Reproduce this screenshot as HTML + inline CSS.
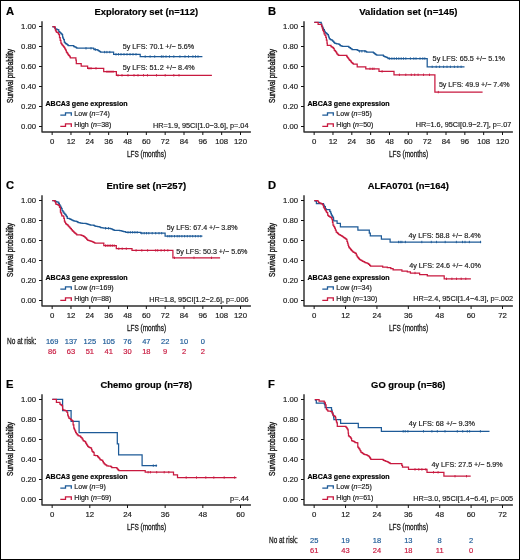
<!DOCTYPE html>
<html><head><meta charset="utf-8"><title>KM curves</title>
<style>html,body{margin:0;padding:0;background:#fff;width:520px;height:560px;overflow:hidden;}body{position:relative;font-family:'Liberation Sans', sans-serif;}</style>
</head><body><div style="position:absolute;left:0;top:0;width:520px;height:560px;will-change:transform;">
<svg width="520" height="560" viewBox="0 0 520 560" style="position:absolute;left:0;top:0;font-family:'Liberation Sans', sans-serif">
<rect x="0" y="0" width="520" height="560" fill="#fff"/>
<text x="6.10" y="15.20" font-size="11.2" fill="#000" stroke="#000" stroke-width="0.18" font-weight="bold">A</text>
<text x="146.33" y="15.00" font-size="9.3" fill="#000" stroke="#000" stroke-width="0.18" text-anchor="middle" font-weight="bold" textLength="103.60" lengthAdjust="spacingAndGlyphs">Exploratory set (n=112)</text>
<path d="M42.00,21.20V132.00H250.90" fill="none" stroke="#2e2e2e" stroke-width="1.45" stroke-linejoin="round"/>
<line x1="39.00" y1="26.50" x2="42.00" y2="26.50" stroke="#111" stroke-width="1.0"/>
<text x="36.10" y="28.95" font-size="7.9" fill="#1c1c1c" stroke="#1c1c1c" stroke-width="0.18" text-anchor="end" textLength="15.00" lengthAdjust="spacingAndGlyphs">1.00</text>
<line x1="39.00" y1="46.50" x2="42.00" y2="46.50" stroke="#111" stroke-width="1.0"/>
<text x="36.10" y="48.95" font-size="7.9" fill="#1c1c1c" stroke="#1c1c1c" stroke-width="0.18" text-anchor="end" textLength="15.00" lengthAdjust="spacingAndGlyphs">0.80</text>
<line x1="39.00" y1="66.50" x2="42.00" y2="66.50" stroke="#111" stroke-width="1.0"/>
<text x="36.10" y="68.95" font-size="7.9" fill="#1c1c1c" stroke="#1c1c1c" stroke-width="0.18" text-anchor="end" textLength="15.00" lengthAdjust="spacingAndGlyphs">0.60</text>
<line x1="39.00" y1="86.50" x2="42.00" y2="86.50" stroke="#111" stroke-width="1.0"/>
<text x="36.10" y="88.95" font-size="7.9" fill="#1c1c1c" stroke="#1c1c1c" stroke-width="0.18" text-anchor="end" textLength="15.00" lengthAdjust="spacingAndGlyphs">0.40</text>
<line x1="39.00" y1="106.50" x2="42.00" y2="106.50" stroke="#111" stroke-width="1.0"/>
<text x="36.10" y="108.95" font-size="7.9" fill="#1c1c1c" stroke="#1c1c1c" stroke-width="0.18" text-anchor="end" textLength="15.00" lengthAdjust="spacingAndGlyphs">0.20</text>
<line x1="39.00" y1="126.50" x2="42.00" y2="126.50" stroke="#111" stroke-width="1.0"/>
<text x="36.10" y="128.95" font-size="7.9" fill="#1c1c1c" stroke="#1c1c1c" stroke-width="0.18" text-anchor="end" textLength="15.00" lengthAdjust="spacingAndGlyphs">0.00</text>
<line x1="52.15" y1="132.00" x2="52.15" y2="135.00" stroke="#111" stroke-width="1.0"/>
<text x="52.15" y="143.80" font-size="7.8" fill="#1c1c1c" stroke="#1c1c1c" stroke-width="0.18" text-anchor="middle">0</text>
<line x1="70.98" y1="132.00" x2="70.98" y2="135.00" stroke="#111" stroke-width="1.0"/>
<text x="70.98" y="143.80" font-size="7.8" fill="#1c1c1c" stroke="#1c1c1c" stroke-width="0.18" text-anchor="middle">12</text>
<line x1="89.82" y1="132.00" x2="89.82" y2="135.00" stroke="#111" stroke-width="1.0"/>
<text x="89.82" y="143.80" font-size="7.8" fill="#1c1c1c" stroke="#1c1c1c" stroke-width="0.18" text-anchor="middle">24</text>
<line x1="108.66" y1="132.00" x2="108.66" y2="135.00" stroke="#111" stroke-width="1.0"/>
<text x="108.66" y="143.80" font-size="7.8" fill="#1c1c1c" stroke="#1c1c1c" stroke-width="0.18" text-anchor="middle">36</text>
<line x1="127.49" y1="132.00" x2="127.49" y2="135.00" stroke="#111" stroke-width="1.0"/>
<text x="127.49" y="143.80" font-size="7.8" fill="#1c1c1c" stroke="#1c1c1c" stroke-width="0.18" text-anchor="middle">48</text>
<line x1="146.33" y1="132.00" x2="146.33" y2="135.00" stroke="#111" stroke-width="1.0"/>
<text x="146.33" y="143.80" font-size="7.8" fill="#1c1c1c" stroke="#1c1c1c" stroke-width="0.18" text-anchor="middle">60</text>
<line x1="165.16" y1="132.00" x2="165.16" y2="135.00" stroke="#111" stroke-width="1.0"/>
<text x="165.16" y="143.80" font-size="7.8" fill="#1c1c1c" stroke="#1c1c1c" stroke-width="0.18" text-anchor="middle">72</text>
<line x1="184.00" y1="132.00" x2="184.00" y2="135.00" stroke="#111" stroke-width="1.0"/>
<text x="184.00" y="143.80" font-size="7.8" fill="#1c1c1c" stroke="#1c1c1c" stroke-width="0.18" text-anchor="middle">84</text>
<line x1="202.83" y1="132.00" x2="202.83" y2="135.00" stroke="#111" stroke-width="1.0"/>
<text x="202.83" y="143.80" font-size="7.8" fill="#1c1c1c" stroke="#1c1c1c" stroke-width="0.18" text-anchor="middle">96</text>
<line x1="221.67" y1="132.00" x2="221.67" y2="135.00" stroke="#111" stroke-width="1.0"/>
<text x="221.67" y="143.80" font-size="7.8" fill="#1c1c1c" stroke="#1c1c1c" stroke-width="0.18" text-anchor="middle">108</text>
<line x1="240.50" y1="132.00" x2="240.50" y2="135.00" stroke="#111" stroke-width="1.0"/>
<text x="240.50" y="143.80" font-size="7.8" fill="#1c1c1c" stroke="#1c1c1c" stroke-width="0.18" text-anchor="middle">120</text>
<text transform="translate(12.60,75.90) rotate(-90)" x="0" y="0" font-size="8.8" fill="#1c1c1c" text-anchor="middle" textLength="54" lengthAdjust="spacingAndGlyphs" stroke="#1c1c1c" stroke-width="0.4">Survival probability</text>
<text x="126.90" y="156.50" font-size="8.7" fill="#1c1c1c" textLength="39.20" lengthAdjust="spacingAndGlyphs" stroke="#1c1c1c" stroke-width="0.3">LFS (months)</text>
<text x="45.50" y="106.20" font-size="7.05" fill="#000" stroke="#000" stroke-width="0.18" font-weight="bold" textLength="82.10" lengthAdjust="spacingAndGlyphs">ABCA3 gene expression</text>
<path d="M60.30,115.20H65.50V112.90H71.30V115.80" fill="none" stroke="#1d5a97" stroke-width="1.3" stroke-linejoin="miter"/>
<path d="M60.30,126.30H65.50V123.90H71.30V126.90" fill="none" stroke="#c8193f" stroke-width="1.3" stroke-linejoin="miter"/>
<text x="74.30" y="116.20" font-size="7.05" fill="#1c1c1c" stroke="#1c1c1c" stroke-width="0.18">Low (<tspan font-style="italic">n</tspan>=74)</text>
<text x="74.30" y="127.10" font-size="7.05" fill="#1c1c1c" stroke="#1c1c1c" stroke-width="0.18">High (<tspan font-style="italic">n</tspan>=38)</text>
<text x="153.00" y="127.50" font-size="7.3" fill="#1c1c1c" stroke="#1c1c1c" stroke-width="0.18" textLength="95.50" lengthAdjust="spacingAndGlyphs">HR=1.9, 95CI[1.0−3.6], p=.04</text>
<path d="M52.40,26.60H53.07V26.77H53.73V26.93H54.40V27.10H54.90V27.95H55.40V28.80H56.10V29.10H56.80V29.40H57.45V29.60H58.10V29.80H58.80V31.50H59.50V32.15H60.20V32.80H61.05V33.65H61.90V34.50H62.60V37.20H63.10V38.40H63.60V39.60H64.30V42.00H64.95V42.85H65.60V43.70H66.45V44.20H67.30V44.70H67.80V45.20H68.30V45.70H73.10V45.70H73.80V46.70H74.65V46.90H75.50V47.10H76.15V47.65H76.80V48.20H93.00V48.20H93.60V48.85H94.20V49.50H94.92V49.58H95.65V49.65H96.38V49.72H97.10V49.80H97.70V50.20H98.30V50.60H99.07V51.10H99.83V51.60H100.60V52.10H112.70V52.10H113.60V54.30H140.20V54.30H140.20V56.50H202.40V56.50" fill="none" stroke="#1d5a97" stroke-width="1.25" stroke-linejoin="miter"/>
<path d="M52.40,26.60H54.40V26.60H54.90V28.35H55.40V30.10H55.90V31.10H56.40V32.10H57.10V32.30H57.80V32.50H58.30V33.50H58.80V34.50H59.50V37.60H60.20V40.30H60.90V43.00H61.55V44.00H62.20V45.00H62.90V45.85H63.60V46.70H64.10V47.40H64.60V48.10H65.10V49.10H65.60V50.10H66.30V51.80H66.80V52.50H67.30V53.20H67.80V54.05H68.30V54.90H68.80V55.40H69.30V55.90H69.85V56.90H70.40V57.90H75.60V57.90H75.90V60.20H76.30V63.70H81.20V63.70H81.20V66.00H87.60V66.00H87.60V68.30H103.70V68.30H103.70V71.70H116.40V71.70H116.40V75.40H211.90V75.40" fill="none" stroke="#c8193f" stroke-width="1.25" stroke-linejoin="miter"/>
<path d="M86.00,47.10v2.40M91.00,47.10v2.40M95.50,48.30v2.40M104.60,50.90v2.40M106.90,50.90v2.40M109.80,50.90v2.40M116.00,53.10v2.40M118.50,53.10v2.40M121.00,53.10v2.40M124.00,53.10v2.40M127.00,53.10v2.40M130.00,53.10v2.40M133.00,53.10v2.40M136.00,53.10v2.40M145.20,55.30v2.40M150.10,55.30v2.40M154.70,55.30v2.40M161.40,55.30v2.40M163.10,55.30v2.40M166.00,55.30v2.40M169.50,55.30v2.40M173.80,55.30v2.40M179.90,55.30v2.40M185.00,55.30v2.40M188.50,55.30v2.40M192.90,55.30v2.40M195.50,55.30v2.40M198.00,55.30v2.40" fill="none" stroke="#1d5a97" stroke-width="0.9"/>
<path d="M89.00,67.10v2.40M91.00,67.10v2.40M96.00,67.10v2.40M107.00,70.50v2.40M109.00,70.50v2.40M111.00,70.50v2.40M113.00,70.50v2.40M118.00,74.10v2.40M122.00,74.10v2.40M128.00,74.10v2.40M134.00,74.10v2.40M138.00,74.10v2.40M143.50,74.10v2.40M147.50,74.10v2.40M156.50,74.10v2.40M165.20,74.10v2.40M173.80,74.10v2.40M179.00,74.10v2.40" fill="none" stroke="#c8193f" stroke-width="0.9"/>
<text x="122.70" y="49.30" font-size="7.2" fill="#1c1c1c" stroke="#1c1c1c" stroke-width="0.18" textLength="71.40" lengthAdjust="spacingAndGlyphs">5y LFS: 70.1 +/− 5.6%</text>
<text x="122.70" y="69.70" font-size="7.2" fill="#1c1c1c" stroke="#1c1c1c" stroke-width="0.18" textLength="71.90" lengthAdjust="spacingAndGlyphs">5y LFS: 51.2 +/− 8.4%</text>
<text x="268.10" y="15.20" font-size="11.2" fill="#000" stroke="#000" stroke-width="0.18" font-weight="bold">B</text>
<text x="408.32" y="15.00" font-size="9.3" fill="#000" stroke="#000" stroke-width="0.18" text-anchor="middle" font-weight="bold" textLength="98.20" lengthAdjust="spacingAndGlyphs">Validation set (n=145)</text>
<path d="M304.00,21.20V132.00H512.90" fill="none" stroke="#2e2e2e" stroke-width="1.45" stroke-linejoin="round"/>
<line x1="301.00" y1="26.50" x2="304.00" y2="26.50" stroke="#111" stroke-width="1.0"/>
<text x="298.10" y="28.95" font-size="7.9" fill="#1c1c1c" stroke="#1c1c1c" stroke-width="0.18" text-anchor="end" textLength="15.00" lengthAdjust="spacingAndGlyphs">1.00</text>
<line x1="301.00" y1="46.50" x2="304.00" y2="46.50" stroke="#111" stroke-width="1.0"/>
<text x="298.10" y="48.95" font-size="7.9" fill="#1c1c1c" stroke="#1c1c1c" stroke-width="0.18" text-anchor="end" textLength="15.00" lengthAdjust="spacingAndGlyphs">0.80</text>
<line x1="301.00" y1="66.50" x2="304.00" y2="66.50" stroke="#111" stroke-width="1.0"/>
<text x="298.10" y="68.95" font-size="7.9" fill="#1c1c1c" stroke="#1c1c1c" stroke-width="0.18" text-anchor="end" textLength="15.00" lengthAdjust="spacingAndGlyphs">0.60</text>
<line x1="301.00" y1="86.50" x2="304.00" y2="86.50" stroke="#111" stroke-width="1.0"/>
<text x="298.10" y="88.95" font-size="7.9" fill="#1c1c1c" stroke="#1c1c1c" stroke-width="0.18" text-anchor="end" textLength="15.00" lengthAdjust="spacingAndGlyphs">0.40</text>
<line x1="301.00" y1="106.50" x2="304.00" y2="106.50" stroke="#111" stroke-width="1.0"/>
<text x="298.10" y="108.95" font-size="7.9" fill="#1c1c1c" stroke="#1c1c1c" stroke-width="0.18" text-anchor="end" textLength="15.00" lengthAdjust="spacingAndGlyphs">0.20</text>
<line x1="301.00" y1="126.50" x2="304.00" y2="126.50" stroke="#111" stroke-width="1.0"/>
<text x="298.10" y="128.95" font-size="7.9" fill="#1c1c1c" stroke="#1c1c1c" stroke-width="0.18" text-anchor="end" textLength="15.00" lengthAdjust="spacingAndGlyphs">0.00</text>
<line x1="314.15" y1="132.00" x2="314.15" y2="135.00" stroke="#111" stroke-width="1.0"/>
<text x="314.15" y="143.80" font-size="7.8" fill="#1c1c1c" stroke="#1c1c1c" stroke-width="0.18" text-anchor="middle">0</text>
<line x1="332.98" y1="132.00" x2="332.98" y2="135.00" stroke="#111" stroke-width="1.0"/>
<text x="332.98" y="143.80" font-size="7.8" fill="#1c1c1c" stroke="#1c1c1c" stroke-width="0.18" text-anchor="middle">12</text>
<line x1="351.82" y1="132.00" x2="351.82" y2="135.00" stroke="#111" stroke-width="1.0"/>
<text x="351.82" y="143.80" font-size="7.8" fill="#1c1c1c" stroke="#1c1c1c" stroke-width="0.18" text-anchor="middle">24</text>
<line x1="370.65" y1="132.00" x2="370.65" y2="135.00" stroke="#111" stroke-width="1.0"/>
<text x="370.65" y="143.80" font-size="7.8" fill="#1c1c1c" stroke="#1c1c1c" stroke-width="0.18" text-anchor="middle">36</text>
<line x1="389.49" y1="132.00" x2="389.49" y2="135.00" stroke="#111" stroke-width="1.0"/>
<text x="389.49" y="143.80" font-size="7.8" fill="#1c1c1c" stroke="#1c1c1c" stroke-width="0.18" text-anchor="middle">48</text>
<line x1="408.32" y1="132.00" x2="408.32" y2="135.00" stroke="#111" stroke-width="1.0"/>
<text x="408.32" y="143.80" font-size="7.8" fill="#1c1c1c" stroke="#1c1c1c" stroke-width="0.18" text-anchor="middle">60</text>
<line x1="427.16" y1="132.00" x2="427.16" y2="135.00" stroke="#111" stroke-width="1.0"/>
<text x="427.16" y="143.80" font-size="7.8" fill="#1c1c1c" stroke="#1c1c1c" stroke-width="0.18" text-anchor="middle">72</text>
<line x1="446.00" y1="132.00" x2="446.00" y2="135.00" stroke="#111" stroke-width="1.0"/>
<text x="446.00" y="143.80" font-size="7.8" fill="#1c1c1c" stroke="#1c1c1c" stroke-width="0.18" text-anchor="middle">84</text>
<line x1="464.83" y1="132.00" x2="464.83" y2="135.00" stroke="#111" stroke-width="1.0"/>
<text x="464.83" y="143.80" font-size="7.8" fill="#1c1c1c" stroke="#1c1c1c" stroke-width="0.18" text-anchor="middle">96</text>
<line x1="483.66" y1="132.00" x2="483.66" y2="135.00" stroke="#111" stroke-width="1.0"/>
<text x="483.66" y="143.80" font-size="7.8" fill="#1c1c1c" stroke="#1c1c1c" stroke-width="0.18" text-anchor="middle">108</text>
<line x1="502.50" y1="132.00" x2="502.50" y2="135.00" stroke="#111" stroke-width="1.0"/>
<text x="502.50" y="143.80" font-size="7.8" fill="#1c1c1c" stroke="#1c1c1c" stroke-width="0.18" text-anchor="middle">120</text>
<text transform="translate(274.60,75.90) rotate(-90)" x="0" y="0" font-size="8.8" fill="#1c1c1c" text-anchor="middle" textLength="54" lengthAdjust="spacingAndGlyphs" stroke="#1c1c1c" stroke-width="0.4">Survival probability</text>
<text x="388.90" y="156.50" font-size="8.7" fill="#1c1c1c" textLength="39.20" lengthAdjust="spacingAndGlyphs" stroke="#1c1c1c" stroke-width="0.3">LFS (months)</text>
<text x="307.50" y="106.20" font-size="7.05" fill="#000" stroke="#000" stroke-width="0.18" font-weight="bold" textLength="82.10" lengthAdjust="spacingAndGlyphs">ABCA3 gene expression</text>
<path d="M322.30,115.20H327.50V112.90H333.30V115.80" fill="none" stroke="#1d5a97" stroke-width="1.3" stroke-linejoin="miter"/>
<path d="M322.30,126.30H327.50V123.90H333.30V126.90" fill="none" stroke="#c8193f" stroke-width="1.3" stroke-linejoin="miter"/>
<text x="336.30" y="116.20" font-size="7.05" fill="#1c1c1c" stroke="#1c1c1c" stroke-width="0.18">Low (<tspan font-style="italic">n</tspan>=95)</text>
<text x="336.30" y="127.10" font-size="7.05" fill="#1c1c1c" stroke="#1c1c1c" stroke-width="0.18">High (<tspan font-style="italic">n</tspan>=50)</text>
<text x="415.70" y="127.40" font-size="7.3" fill="#1c1c1c" stroke="#1c1c1c" stroke-width="0.18" textLength="95.60" lengthAdjust="spacingAndGlyphs">HR=1.6, 95CI[0.9−2.7], p=.07</text>
<path d="M314.30,22.40H320.70V22.40H321.20V24.00H321.80V26.30H322.70V28.10H323.50V29.50H324.40V31.00H324.85V31.85H325.30V32.70H326.00V33.15H326.70V33.60H327.15V34.15H327.60V34.70H328.40V36.20H328.85V37.35H329.30V38.50H329.90V39.05H330.50V39.60H331.20V39.90H331.90V40.20H332.50V40.80H333.10V41.40H333.80V42.25H334.50V43.10H335.35V43.40H336.20V43.70H336.87V43.77H337.53V43.83H338.20V43.90H338.90V44.43H339.60V44.97H340.30V45.50H341.03V45.80H341.77V46.10H342.50V46.40H347.80V46.40H348.65V47.05H349.50V47.70H350.37V48.33H351.23V48.97H352.10V49.60H356.50V49.60H357.20V50.03H357.90V50.47H358.60V50.90H365.10V51.10H365.90V51.55H366.70V52.00H372.60V52.00H373.33V52.63H374.07V53.27H374.80V53.90H375.50V54.33H376.20V54.77H376.90V55.20H382.80V55.20H383.35V55.75H383.90V56.30H384.57V56.57H385.25V56.85H385.93V57.12H386.60V57.40H387.40V57.95H388.20V58.50H427.20V58.50H427.20V66.80H464.50V66.80" fill="none" stroke="#1d5a97" stroke-width="1.25" stroke-linejoin="miter"/>
<path d="M314.30,22.40H317.80V22.40H318.10V24.30H320.70V24.30H321.50V25.80H322.10V27.80H322.70V30.10H323.50V31.50H324.10V33.80H325.00V35.30H325.80V37.30H326.40V40.20H327.00V43.10H327.30V45.40H330.50V45.40H331.00V46.50H331.60V46.80H332.20V47.10H332.80V47.70H333.40V48.30H334.20V50.00H334.80V50.67H335.40V51.33H336.00V52.00H336.55V53.05H337.10V54.10H337.90V54.75H338.70V55.40H346.20V55.40H346.75V56.40H347.30V57.40H348.10V58.45H348.90V59.50H349.70V60.30H350.50V61.10H351.30V62.30H351.97V62.87H352.63V63.43H353.30V64.00H357.20V64.20H357.20V66.80H365.80V66.80H365.80V68.80H379.00V68.80H379.00V71.40H394.00V71.40H394.00V74.90H434.90V74.90H434.90V92.10H482.60V92.10" fill="none" stroke="#c8193f" stroke-width="1.25" stroke-linejoin="miter"/>
<path d="M359.60,50.10v2.40M361.90,50.10v2.40M364.80,50.10v2.40M389.60,57.30v2.40M391.90,57.30v2.40M394.20,57.30v2.40M396.50,57.30v2.40M398.80,57.30v2.40M401.20,57.30v2.40M403.50,57.30v2.40M405.80,57.30v2.40M410.40,57.30v2.40M413.80,57.30v2.40M416.00,57.30v2.40M420.00,57.30v2.40M422.80,57.30v2.40M424.80,57.30v2.40M432.20,65.60v2.40M436.20,65.60v2.40M439.60,65.60v2.40M443.60,65.60v2.40M447.00,65.60v2.40M450.40,65.60v2.40M454.40,65.60v2.40M457.80,65.60v2.40M461.10,65.60v2.40" fill="none" stroke="#1d5a97" stroke-width="0.9"/>
<path d="M370.00,67.60v2.40M372.30,67.60v2.40M374.00,67.60v2.40M382.10,70.20v2.40M399.40,73.60v2.40M405.80,73.60v2.40M411.30,73.60v2.40M414.70,73.60v2.40M418.10,73.60v2.40M423.50,73.60v2.40M429.50,73.60v2.40M438.30,90.90v2.40" fill="none" stroke="#c8193f" stroke-width="0.9"/>
<text x="432.60" y="61.20" font-size="7.2" fill="#1c1c1c" stroke="#1c1c1c" stroke-width="0.18" textLength="72.30" lengthAdjust="spacingAndGlyphs">5y LFS: 65.5 +/− 5.1%</text>
<text x="438.90" y="87.00" font-size="7.2" fill="#1c1c1c" stroke="#1c1c1c" stroke-width="0.18" textLength="70.60" lengthAdjust="spacingAndGlyphs">5y LFS: 49.9 +/− 7.4%</text>
<text x="6.10" y="189.20" font-size="11.2" fill="#000" stroke="#000" stroke-width="0.18" font-weight="bold">C</text>
<text x="146.33" y="189.00" font-size="9.3" fill="#000" stroke="#000" stroke-width="0.18" text-anchor="middle" font-weight="bold" textLength="79.60" lengthAdjust="spacingAndGlyphs">Entire set (n=257)</text>
<path d="M42.00,195.20V306.00H250.90" fill="none" stroke="#2e2e2e" stroke-width="1.45" stroke-linejoin="round"/>
<line x1="39.00" y1="200.50" x2="42.00" y2="200.50" stroke="#111" stroke-width="1.0"/>
<text x="36.10" y="202.95" font-size="7.9" fill="#1c1c1c" stroke="#1c1c1c" stroke-width="0.18" text-anchor="end" textLength="15.00" lengthAdjust="spacingAndGlyphs">1.00</text>
<line x1="39.00" y1="220.50" x2="42.00" y2="220.50" stroke="#111" stroke-width="1.0"/>
<text x="36.10" y="222.95" font-size="7.9" fill="#1c1c1c" stroke="#1c1c1c" stroke-width="0.18" text-anchor="end" textLength="15.00" lengthAdjust="spacingAndGlyphs">0.80</text>
<line x1="39.00" y1="240.50" x2="42.00" y2="240.50" stroke="#111" stroke-width="1.0"/>
<text x="36.10" y="242.95" font-size="7.9" fill="#1c1c1c" stroke="#1c1c1c" stroke-width="0.18" text-anchor="end" textLength="15.00" lengthAdjust="spacingAndGlyphs">0.60</text>
<line x1="39.00" y1="260.50" x2="42.00" y2="260.50" stroke="#111" stroke-width="1.0"/>
<text x="36.10" y="262.95" font-size="7.9" fill="#1c1c1c" stroke="#1c1c1c" stroke-width="0.18" text-anchor="end" textLength="15.00" lengthAdjust="spacingAndGlyphs">0.40</text>
<line x1="39.00" y1="280.50" x2="42.00" y2="280.50" stroke="#111" stroke-width="1.0"/>
<text x="36.10" y="282.95" font-size="7.9" fill="#1c1c1c" stroke="#1c1c1c" stroke-width="0.18" text-anchor="end" textLength="15.00" lengthAdjust="spacingAndGlyphs">0.20</text>
<line x1="39.00" y1="300.50" x2="42.00" y2="300.50" stroke="#111" stroke-width="1.0"/>
<text x="36.10" y="302.95" font-size="7.9" fill="#1c1c1c" stroke="#1c1c1c" stroke-width="0.18" text-anchor="end" textLength="15.00" lengthAdjust="spacingAndGlyphs">0.00</text>
<line x1="52.15" y1="306.00" x2="52.15" y2="309.00" stroke="#111" stroke-width="1.0"/>
<text x="52.15" y="317.80" font-size="7.8" fill="#1c1c1c" stroke="#1c1c1c" stroke-width="0.18" text-anchor="middle">0</text>
<line x1="70.98" y1="306.00" x2="70.98" y2="309.00" stroke="#111" stroke-width="1.0"/>
<text x="70.98" y="317.80" font-size="7.8" fill="#1c1c1c" stroke="#1c1c1c" stroke-width="0.18" text-anchor="middle">12</text>
<line x1="89.82" y1="306.00" x2="89.82" y2="309.00" stroke="#111" stroke-width="1.0"/>
<text x="89.82" y="317.80" font-size="7.8" fill="#1c1c1c" stroke="#1c1c1c" stroke-width="0.18" text-anchor="middle">24</text>
<line x1="108.66" y1="306.00" x2="108.66" y2="309.00" stroke="#111" stroke-width="1.0"/>
<text x="108.66" y="317.80" font-size="7.8" fill="#1c1c1c" stroke="#1c1c1c" stroke-width="0.18" text-anchor="middle">36</text>
<line x1="127.49" y1="306.00" x2="127.49" y2="309.00" stroke="#111" stroke-width="1.0"/>
<text x="127.49" y="317.80" font-size="7.8" fill="#1c1c1c" stroke="#1c1c1c" stroke-width="0.18" text-anchor="middle">48</text>
<line x1="146.33" y1="306.00" x2="146.33" y2="309.00" stroke="#111" stroke-width="1.0"/>
<text x="146.33" y="317.80" font-size="7.8" fill="#1c1c1c" stroke="#1c1c1c" stroke-width="0.18" text-anchor="middle">60</text>
<line x1="165.16" y1="306.00" x2="165.16" y2="309.00" stroke="#111" stroke-width="1.0"/>
<text x="165.16" y="317.80" font-size="7.8" fill="#1c1c1c" stroke="#1c1c1c" stroke-width="0.18" text-anchor="middle">72</text>
<line x1="184.00" y1="306.00" x2="184.00" y2="309.00" stroke="#111" stroke-width="1.0"/>
<text x="184.00" y="317.80" font-size="7.8" fill="#1c1c1c" stroke="#1c1c1c" stroke-width="0.18" text-anchor="middle">84</text>
<line x1="202.83" y1="306.00" x2="202.83" y2="309.00" stroke="#111" stroke-width="1.0"/>
<text x="202.83" y="317.80" font-size="7.8" fill="#1c1c1c" stroke="#1c1c1c" stroke-width="0.18" text-anchor="middle">96</text>
<line x1="221.67" y1="306.00" x2="221.67" y2="309.00" stroke="#111" stroke-width="1.0"/>
<text x="221.67" y="317.80" font-size="7.8" fill="#1c1c1c" stroke="#1c1c1c" stroke-width="0.18" text-anchor="middle">108</text>
<line x1="240.50" y1="306.00" x2="240.50" y2="309.00" stroke="#111" stroke-width="1.0"/>
<text x="240.50" y="317.80" font-size="7.8" fill="#1c1c1c" stroke="#1c1c1c" stroke-width="0.18" text-anchor="middle">120</text>
<text transform="translate(12.60,249.90) rotate(-90)" x="0" y="0" font-size="8.8" fill="#1c1c1c" text-anchor="middle" textLength="54" lengthAdjust="spacingAndGlyphs" stroke="#1c1c1c" stroke-width="0.4">Survival probability</text>
<text x="126.90" y="330.50" font-size="8.7" fill="#1c1c1c" textLength="39.20" lengthAdjust="spacingAndGlyphs" stroke="#1c1c1c" stroke-width="0.3">LFS (months)</text>
<text x="45.50" y="280.20" font-size="7.05" fill="#000" stroke="#000" stroke-width="0.18" font-weight="bold" textLength="82.10" lengthAdjust="spacingAndGlyphs">ABCA3 gene expression</text>
<path d="M60.30,289.20H65.50V286.90H71.30V289.80" fill="none" stroke="#1d5a97" stroke-width="1.3" stroke-linejoin="miter"/>
<path d="M60.30,300.30H65.50V297.90H71.30V300.90" fill="none" stroke="#c8193f" stroke-width="1.3" stroke-linejoin="miter"/>
<text x="74.30" y="290.20" font-size="7.05" fill="#1c1c1c" stroke="#1c1c1c" stroke-width="0.18">Low (<tspan font-style="italic">n</tspan>=169)</text>
<text x="74.30" y="301.10" font-size="7.05" fill="#1c1c1c" stroke="#1c1c1c" stroke-width="0.18">High (<tspan font-style="italic">n</tspan>=88)</text>
<text x="149.20" y="301.50" font-size="7.3" fill="#1c1c1c" stroke="#1c1c1c" stroke-width="0.18" textLength="99.30" lengthAdjust="spacingAndGlyphs">HR=1.8, 95CI[1.2−2.6], p=.006</text>
<path d="M52.30,200.60H53.07V200.67H53.83V200.73H54.60V200.80H55.20V201.20H55.80V201.60H56.57V201.80H57.33V202.00H58.10V202.20H58.70V203.30H59.40V204.75H60.10V206.20H60.80V207.35H61.50V208.50H62.10V210.60H62.95V211.90H63.80V213.20H64.70V214.05H65.60V214.90H66.15V215.75H66.70V216.60H67.30V218.30H68.20V218.45H69.10V218.60H69.87V219.00H70.63V219.40H71.40V219.80H72.17V220.17H72.93V220.53H73.70V220.90H74.47V221.03H75.23V221.17H76.00V221.30H76.77V221.70H77.53V222.10H78.30V222.50H79.07V222.73H79.83V222.97H80.60V223.20H81.37V223.23H82.13V223.27H82.90V223.30H83.67V223.33H84.43V223.37H85.20V223.40H85.97V223.65H86.75V223.90H87.53V224.15H88.30V224.40H89.07V224.67H89.83V224.93H90.60V225.20H92.90V225.20H93.68V225.47H94.45V225.75H95.22V226.03H96.00V226.30H96.77V226.43H97.53V226.57H98.30V226.70H99.07V226.97H99.83V227.23H100.60V227.50H101.38V227.65H102.15V227.80H102.92V227.95H103.70V228.10H104.47V228.17H105.23V228.23H106.00V228.30H109.50V228.30H110.27V228.57H111.03V228.83H111.80V229.10H112.60V229.50H113.40V229.90H114.20V230.30H118.80V230.30H119.57V230.50H120.33V230.70H121.10V230.90H121.95V231.10H122.80V231.30H123.65V231.50H124.50V231.70H125.40V232.00H126.30V232.30H140.40V232.30H140.70V233.20H165.10V233.20H165.10V236.20H202.40V236.20" fill="none" stroke="#1d5a97" stroke-width="1.25" stroke-linejoin="miter"/>
<path d="M52.30,200.60H54.30V200.60H54.90V201.55H55.50V202.50H55.80V204.20H56.65V204.35H57.50V204.50H58.20V205.10H58.90V205.70H59.50V207.40H60.40V212.00H60.95V213.15H61.50V214.30H61.80V215.80H62.40V215.90H63.00V216.00H63.80V218.40H64.40V221.20H65.00V222.35H65.60V223.50H66.23V224.07H66.87V224.63H67.50V225.20H68.27V226.07H69.03V226.93H69.80V227.80H70.60V228.70H71.40V229.60H72.20V230.50H72.97V231.27H73.73V232.03H74.50V232.80H75.27V233.47H76.03V234.13H76.80V234.80H80.20V234.80H80.88V235.08H81.55V235.35H82.23V235.62H82.90V235.90H83.67V236.43H84.43V236.97H85.20V237.50H85.97V238.40H86.73V239.30H87.50V240.20H88.27V240.43H89.03V240.67H89.80V240.90H90.60V241.17H91.40V241.43H92.20V241.70H92.95V242.05H93.70V242.40H94.45V242.75H95.20V243.10H103.60V243.10H103.80V245.60H115.90V245.60H116.30V248.70H131.60V248.70H132.00V250.40H172.90V250.40H172.90V257.80H220.10V257.80" fill="none" stroke="#c8193f" stroke-width="1.25" stroke-linejoin="miter"/>
<path d="M105.50,227.10v2.40M108.50,227.10v2.40M128.00,231.10v2.40M130.30,231.10v2.40M132.60,231.10v2.40M134.90,231.10v2.40M137.20,231.10v2.40M141.80,232.00v2.40M144.20,232.00v2.40M146.50,232.00v2.40M148.80,232.00v2.40M152.20,232.00v2.40M155.70,232.00v2.40M159.00,232.00v2.40M161.70,232.00v2.40M167.80,235.00v2.40M169.80,235.00v2.40M171.80,235.00v2.40M174.50,235.00v2.40M177.20,235.00v2.40M179.20,235.00v2.40M181.90,235.00v2.40M184.60,235.00v2.40M187.30,235.00v2.40M190.00,235.00v2.40M192.70,235.00v2.40M195.40,235.00v2.40M198.10,235.00v2.40M200.80,235.00v2.40" fill="none" stroke="#1d5a97" stroke-width="0.9"/>
<path d="M105.50,244.40v2.40M107.20,244.40v2.40M109.00,244.40v2.40M110.70,244.40v2.40M112.40,244.40v2.40M114.20,244.40v2.40M118.80,247.50v2.40M122.20,247.50v2.40M126.30,247.50v2.40M136.10,249.20v2.40M141.80,249.20v2.40M147.60,249.20v2.40M155.70,249.20v2.40M157.70,249.20v2.40M161.10,249.20v2.40M164.40,249.20v2.40M167.80,249.20v2.40M174.50,256.60v2.40M194.00,256.60v2.40M211.50,256.60v2.40" fill="none" stroke="#c8193f" stroke-width="0.9"/>
<text x="166.80" y="229.80" font-size="7.2" fill="#1c1c1c" stroke="#1c1c1c" stroke-width="0.18" textLength="70.70" lengthAdjust="spacingAndGlyphs">5y LFS: 67.4 +/− 3.8%</text>
<text x="176.30" y="253.50" font-size="7.2" fill="#1c1c1c" stroke="#1c1c1c" stroke-width="0.18" textLength="71.20" lengthAdjust="spacingAndGlyphs">5y LFS: 50.3 +/− 5.6%</text>
<text x="7.00" y="344.20" font-size="8.8" fill="#1c1c1c" textLength="29.30" lengthAdjust="spacingAndGlyphs" stroke="#1c1c1c" stroke-width="0.3">No at risk:</text>
<text x="52.15" y="344.20" font-size="7.5" fill="#1d5a97" stroke="#1d5a97" stroke-width="0.18" text-anchor="middle">169</text>
<text x="52.15" y="354.40" font-size="7.5" fill="#c8193f" stroke="#c8193f" stroke-width="0.18" text-anchor="middle">86</text>
<text x="70.98" y="344.20" font-size="7.5" fill="#1d5a97" stroke="#1d5a97" stroke-width="0.18" text-anchor="middle">137</text>
<text x="70.98" y="354.40" font-size="7.5" fill="#c8193f" stroke="#c8193f" stroke-width="0.18" text-anchor="middle">63</text>
<text x="89.82" y="344.20" font-size="7.5" fill="#1d5a97" stroke="#1d5a97" stroke-width="0.18" text-anchor="middle">125</text>
<text x="89.82" y="354.40" font-size="7.5" fill="#c8193f" stroke="#c8193f" stroke-width="0.18" text-anchor="middle">51</text>
<text x="108.66" y="344.20" font-size="7.5" fill="#1d5a97" stroke="#1d5a97" stroke-width="0.18" text-anchor="middle">105</text>
<text x="108.66" y="354.40" font-size="7.5" fill="#c8193f" stroke="#c8193f" stroke-width="0.18" text-anchor="middle">41</text>
<text x="127.49" y="344.20" font-size="7.5" fill="#1d5a97" stroke="#1d5a97" stroke-width="0.18" text-anchor="middle">76</text>
<text x="127.49" y="354.40" font-size="7.5" fill="#c8193f" stroke="#c8193f" stroke-width="0.18" text-anchor="middle">30</text>
<text x="146.33" y="344.20" font-size="7.5" fill="#1d5a97" stroke="#1d5a97" stroke-width="0.18" text-anchor="middle">47</text>
<text x="146.33" y="354.40" font-size="7.5" fill="#c8193f" stroke="#c8193f" stroke-width="0.18" text-anchor="middle">18</text>
<text x="165.16" y="344.20" font-size="7.5" fill="#1d5a97" stroke="#1d5a97" stroke-width="0.18" text-anchor="middle">22</text>
<text x="165.16" y="354.40" font-size="7.5" fill="#c8193f" stroke="#c8193f" stroke-width="0.18" text-anchor="middle">9</text>
<text x="184.00" y="344.20" font-size="7.5" fill="#1d5a97" stroke="#1d5a97" stroke-width="0.18" text-anchor="middle">10</text>
<text x="184.00" y="354.40" font-size="7.5" fill="#c8193f" stroke="#c8193f" stroke-width="0.18" text-anchor="middle">2</text>
<text x="202.83" y="344.20" font-size="7.5" fill="#1d5a97" stroke="#1d5a97" stroke-width="0.18" text-anchor="middle">0</text>
<text x="202.83" y="354.40" font-size="7.5" fill="#c8193f" stroke="#c8193f" stroke-width="0.18" text-anchor="middle">2</text>
<text x="268.10" y="189.20" font-size="11.2" fill="#000" stroke="#000" stroke-width="0.18" font-weight="bold">D</text>
<text x="408.32" y="189.00" font-size="9.3" fill="#000" stroke="#000" stroke-width="0.18" text-anchor="middle" font-weight="bold" textLength="81.00" lengthAdjust="spacingAndGlyphs">ALFA0701 (n=164)</text>
<path d="M304.00,195.20V306.00H512.90" fill="none" stroke="#2e2e2e" stroke-width="1.45" stroke-linejoin="round"/>
<line x1="301.00" y1="200.50" x2="304.00" y2="200.50" stroke="#111" stroke-width="1.0"/>
<text x="298.10" y="202.95" font-size="7.9" fill="#1c1c1c" stroke="#1c1c1c" stroke-width="0.18" text-anchor="end" textLength="15.00" lengthAdjust="spacingAndGlyphs">1.00</text>
<line x1="301.00" y1="220.50" x2="304.00" y2="220.50" stroke="#111" stroke-width="1.0"/>
<text x="298.10" y="222.95" font-size="7.9" fill="#1c1c1c" stroke="#1c1c1c" stroke-width="0.18" text-anchor="end" textLength="15.00" lengthAdjust="spacingAndGlyphs">0.80</text>
<line x1="301.00" y1="240.50" x2="304.00" y2="240.50" stroke="#111" stroke-width="1.0"/>
<text x="298.10" y="242.95" font-size="7.9" fill="#1c1c1c" stroke="#1c1c1c" stroke-width="0.18" text-anchor="end" textLength="15.00" lengthAdjust="spacingAndGlyphs">0.60</text>
<line x1="301.00" y1="260.50" x2="304.00" y2="260.50" stroke="#111" stroke-width="1.0"/>
<text x="298.10" y="262.95" font-size="7.9" fill="#1c1c1c" stroke="#1c1c1c" stroke-width="0.18" text-anchor="end" textLength="15.00" lengthAdjust="spacingAndGlyphs">0.40</text>
<line x1="301.00" y1="280.50" x2="304.00" y2="280.50" stroke="#111" stroke-width="1.0"/>
<text x="298.10" y="282.95" font-size="7.9" fill="#1c1c1c" stroke="#1c1c1c" stroke-width="0.18" text-anchor="end" textLength="15.00" lengthAdjust="spacingAndGlyphs">0.20</text>
<line x1="301.00" y1="300.50" x2="304.00" y2="300.50" stroke="#111" stroke-width="1.0"/>
<text x="298.10" y="302.95" font-size="7.9" fill="#1c1c1c" stroke="#1c1c1c" stroke-width="0.18" text-anchor="end" textLength="15.00" lengthAdjust="spacingAndGlyphs">0.00</text>
<line x1="314.15" y1="306.00" x2="314.15" y2="309.00" stroke="#111" stroke-width="1.0"/>
<text x="314.15" y="317.80" font-size="7.8" fill="#1c1c1c" stroke="#1c1c1c" stroke-width="0.18" text-anchor="middle">0</text>
<line x1="345.54" y1="306.00" x2="345.54" y2="309.00" stroke="#111" stroke-width="1.0"/>
<text x="345.54" y="317.80" font-size="7.8" fill="#1c1c1c" stroke="#1c1c1c" stroke-width="0.18" text-anchor="middle">12</text>
<line x1="376.93" y1="306.00" x2="376.93" y2="309.00" stroke="#111" stroke-width="1.0"/>
<text x="376.93" y="317.80" font-size="7.8" fill="#1c1c1c" stroke="#1c1c1c" stroke-width="0.18" text-anchor="middle">24</text>
<line x1="408.32" y1="306.00" x2="408.32" y2="309.00" stroke="#111" stroke-width="1.0"/>
<text x="408.32" y="317.80" font-size="7.8" fill="#1c1c1c" stroke="#1c1c1c" stroke-width="0.18" text-anchor="middle">36</text>
<line x1="439.71" y1="306.00" x2="439.71" y2="309.00" stroke="#111" stroke-width="1.0"/>
<text x="439.71" y="317.80" font-size="7.8" fill="#1c1c1c" stroke="#1c1c1c" stroke-width="0.18" text-anchor="middle">48</text>
<line x1="471.10" y1="306.00" x2="471.10" y2="309.00" stroke="#111" stroke-width="1.0"/>
<text x="471.10" y="317.80" font-size="7.8" fill="#1c1c1c" stroke="#1c1c1c" stroke-width="0.18" text-anchor="middle">60</text>
<line x1="502.49" y1="306.00" x2="502.49" y2="309.00" stroke="#111" stroke-width="1.0"/>
<text x="502.49" y="317.80" font-size="7.8" fill="#1c1c1c" stroke="#1c1c1c" stroke-width="0.18" text-anchor="middle">72</text>
<text transform="translate(274.60,249.90) rotate(-90)" x="0" y="0" font-size="8.8" fill="#1c1c1c" text-anchor="middle" textLength="54" lengthAdjust="spacingAndGlyphs" stroke="#1c1c1c" stroke-width="0.4">Survival probability</text>
<text x="388.90" y="330.50" font-size="8.7" fill="#1c1c1c" textLength="39.20" lengthAdjust="spacingAndGlyphs" stroke="#1c1c1c" stroke-width="0.3">LFS (months)</text>
<text x="307.50" y="280.20" font-size="7.05" fill="#000" stroke="#000" stroke-width="0.18" font-weight="bold" textLength="82.10" lengthAdjust="spacingAndGlyphs">ABCA3 gene expression</text>
<path d="M322.30,289.20H327.50V286.90H333.30V289.80" fill="none" stroke="#1d5a97" stroke-width="1.3" stroke-linejoin="miter"/>
<path d="M322.30,300.30H327.50V297.90H333.30V300.90" fill="none" stroke="#c8193f" stroke-width="1.3" stroke-linejoin="miter"/>
<text x="336.30" y="290.20" font-size="7.05" fill="#1c1c1c" stroke="#1c1c1c" stroke-width="0.18">Low (<tspan font-style="italic">n</tspan>=34)</text>
<text x="336.30" y="301.10" font-size="7.05" fill="#1c1c1c" stroke="#1c1c1c" stroke-width="0.18">High (<tspan font-style="italic">n</tspan>=130)</text>
<text x="413.20" y="301.30" font-size="7.3" fill="#1c1c1c" stroke="#1c1c1c" stroke-width="0.18" textLength="99.90" lengthAdjust="spacingAndGlyphs">HR=2.4, 95CI[1.4−4.3], p=.002</text>
<path d="M314.30,200.50H315.00V200.87H315.70V201.23H316.40V201.60H316.40V203.50H322.60V203.50H323.50V204.80H324.00V205.75H324.50V206.70H325.40V208.50H325.85V209.00H326.30V209.50H329.50V209.50H329.80V211.30H330.50V212.20H330.90V213.60H331.35V214.55H331.80V215.50H332.30V216.40H332.80V217.30H333.50V219.20H333.70V220.90H337.10V220.90H337.10V223.40H340.40V223.40H340.40V226.90H357.90V226.90H357.90V230.00H369.30V230.00H369.30V233.00H370.30V233.00H370.30V235.90H381.40V235.90H381.40V239.10H390.10V239.10H390.10V242.00H481.20V242.00" fill="none" stroke="#1d5a97" stroke-width="1.25" stroke-linejoin="miter"/>
<path d="M314.30,200.50H317.30V200.50H318.00V201.50H318.70V202.50H319.40V202.85H320.10V203.20H321.00V203.55H321.90V203.90H322.50V204.50H323.10V205.10H323.50V207.20H324.10V208.20H324.70V209.20H325.25V210.00H325.80V210.80H326.30V211.75H326.80V212.70H327.70V215.00H328.25V215.70H328.80V216.40H329.65V216.75H330.50V217.10H331.05V217.65H331.60V218.20H332.00V219.60H332.50V222.30H333.00V225.00H333.80V226.60H334.60V228.20H335.40V230.10H336.20V232.00H336.93V232.70H337.67V233.40H338.40V234.10H339.07V234.50H339.75V234.90H340.43V235.30H341.10V235.70H341.97V236.33H342.83V236.97H343.70V237.60H344.60V238.20H345.50V238.80H346.40V239.40H346.95V241.30H347.50V243.20H348.05V245.05H348.60V246.90H349.30V247.80H350.00V248.70H350.70V249.60H351.40V250.33H352.10V251.07H352.80V251.80H353.70V252.33H354.60V252.87H355.50V253.40H356.30V255.00H357.10V256.60H357.83V257.50H358.57V258.40H359.30V259.30H360.17V259.83H361.03V260.37H361.90V260.90H362.70V261.30H363.50V261.70H364.30V262.10H365.10V262.50H366.00V262.83H366.90V263.17H367.80V263.50H368.70V264.40H369.60V265.30H370.50V266.20H382.70V266.20H382.70V267.10H387.30V267.70H390.80V268.60H393.10V269.80H401.90V271.20H407.30V271.90H410.40V273.00H419.60V274.50H427.30V275.80H444.20V278.80H470.90V278.80" fill="none" stroke="#c8193f" stroke-width="1.25" stroke-linejoin="miter"/>
<path d="M398.50,240.80v2.40M400.20,240.80v2.40M401.90,240.80v2.40M405.40,240.80v2.40M421.80,240.80v2.40M431.30,240.80v2.40M436.50,240.80v2.40M445.20,240.80v2.40M456.40,240.80v2.40M462.50,240.80v2.40M465.00,240.80v2.40M469.40,240.80v2.40M480.50,240.80v2.40" fill="none" stroke="#1d5a97" stroke-width="0.9"/>
<path d="M415.00,271.80v2.40M446.50,277.60v2.40M451.90,277.60v2.40M456.50,277.60v2.40M461.20,277.60v2.40M465.80,277.60v2.40" fill="none" stroke="#c8193f" stroke-width="0.9"/>
<text x="408.50" y="237.60" font-size="7.2" fill="#1c1c1c" stroke="#1c1c1c" stroke-width="0.18" textLength="72.20" lengthAdjust="spacingAndGlyphs">4y LFS: 58.8 +/− 8.4%</text>
<text x="409.20" y="268.10" font-size="7.2" fill="#1c1c1c" stroke="#1c1c1c" stroke-width="0.18" textLength="71.80" lengthAdjust="spacingAndGlyphs">4y LFS: 24.6 +/− 4.0%</text>
<text x="6.10" y="388.20" font-size="11.2" fill="#000" stroke="#000" stroke-width="0.18" font-weight="bold">E</text>
<text x="146.33" y="388.00" font-size="9.3" fill="#000" stroke="#000" stroke-width="0.18" text-anchor="middle" font-weight="bold" textLength="91.60" lengthAdjust="spacingAndGlyphs">Chemo group (n=78)</text>
<path d="M42.00,394.20V505.00H250.90" fill="none" stroke="#2e2e2e" stroke-width="1.45" stroke-linejoin="round"/>
<line x1="39.00" y1="399.50" x2="42.00" y2="399.50" stroke="#111" stroke-width="1.0"/>
<text x="36.10" y="401.95" font-size="7.9" fill="#1c1c1c" stroke="#1c1c1c" stroke-width="0.18" text-anchor="end" textLength="15.00" lengthAdjust="spacingAndGlyphs">1.00</text>
<line x1="39.00" y1="419.50" x2="42.00" y2="419.50" stroke="#111" stroke-width="1.0"/>
<text x="36.10" y="421.95" font-size="7.9" fill="#1c1c1c" stroke="#1c1c1c" stroke-width="0.18" text-anchor="end" textLength="15.00" lengthAdjust="spacingAndGlyphs">0.80</text>
<line x1="39.00" y1="439.50" x2="42.00" y2="439.50" stroke="#111" stroke-width="1.0"/>
<text x="36.10" y="441.95" font-size="7.9" fill="#1c1c1c" stroke="#1c1c1c" stroke-width="0.18" text-anchor="end" textLength="15.00" lengthAdjust="spacingAndGlyphs">0.60</text>
<line x1="39.00" y1="459.50" x2="42.00" y2="459.50" stroke="#111" stroke-width="1.0"/>
<text x="36.10" y="461.95" font-size="7.9" fill="#1c1c1c" stroke="#1c1c1c" stroke-width="0.18" text-anchor="end" textLength="15.00" lengthAdjust="spacingAndGlyphs">0.40</text>
<line x1="39.00" y1="479.50" x2="42.00" y2="479.50" stroke="#111" stroke-width="1.0"/>
<text x="36.10" y="481.95" font-size="7.9" fill="#1c1c1c" stroke="#1c1c1c" stroke-width="0.18" text-anchor="end" textLength="15.00" lengthAdjust="spacingAndGlyphs">0.20</text>
<line x1="39.00" y1="499.50" x2="42.00" y2="499.50" stroke="#111" stroke-width="1.0"/>
<text x="36.10" y="501.95" font-size="7.9" fill="#1c1c1c" stroke="#1c1c1c" stroke-width="0.18" text-anchor="end" textLength="15.00" lengthAdjust="spacingAndGlyphs">0.00</text>
<line x1="52.15" y1="505.00" x2="52.15" y2="508.00" stroke="#111" stroke-width="1.0"/>
<text x="52.15" y="516.80" font-size="7.8" fill="#1c1c1c" stroke="#1c1c1c" stroke-width="0.18" text-anchor="middle">0</text>
<line x1="89.82" y1="505.00" x2="89.82" y2="508.00" stroke="#111" stroke-width="1.0"/>
<text x="89.82" y="516.80" font-size="7.8" fill="#1c1c1c" stroke="#1c1c1c" stroke-width="0.18" text-anchor="middle">12</text>
<line x1="127.49" y1="505.00" x2="127.49" y2="508.00" stroke="#111" stroke-width="1.0"/>
<text x="127.49" y="516.80" font-size="7.8" fill="#1c1c1c" stroke="#1c1c1c" stroke-width="0.18" text-anchor="middle">24</text>
<line x1="165.16" y1="505.00" x2="165.16" y2="508.00" stroke="#111" stroke-width="1.0"/>
<text x="165.16" y="516.80" font-size="7.8" fill="#1c1c1c" stroke="#1c1c1c" stroke-width="0.18" text-anchor="middle">36</text>
<line x1="202.83" y1="505.00" x2="202.83" y2="508.00" stroke="#111" stroke-width="1.0"/>
<text x="202.83" y="516.80" font-size="7.8" fill="#1c1c1c" stroke="#1c1c1c" stroke-width="0.18" text-anchor="middle">48</text>
<line x1="240.50" y1="505.00" x2="240.50" y2="508.00" stroke="#111" stroke-width="1.0"/>
<text x="240.50" y="516.80" font-size="7.8" fill="#1c1c1c" stroke="#1c1c1c" stroke-width="0.18" text-anchor="middle">60</text>
<text transform="translate(12.60,448.90) rotate(-90)" x="0" y="0" font-size="8.8" fill="#1c1c1c" text-anchor="middle" textLength="54" lengthAdjust="spacingAndGlyphs" stroke="#1c1c1c" stroke-width="0.4">Survival probability</text>
<text x="126.90" y="529.50" font-size="8.7" fill="#1c1c1c" textLength="39.20" lengthAdjust="spacingAndGlyphs" stroke="#1c1c1c" stroke-width="0.3">LFS (months)</text>
<text x="45.50" y="479.20" font-size="7.05" fill="#000" stroke="#000" stroke-width="0.18" font-weight="bold" textLength="82.10" lengthAdjust="spacingAndGlyphs">ABCA3 gene expression</text>
<path d="M60.30,488.20H65.50V485.90H71.30V488.80" fill="none" stroke="#1d5a97" stroke-width="1.3" stroke-linejoin="miter"/>
<path d="M60.30,499.30H65.50V496.90H71.30V499.90" fill="none" stroke="#c8193f" stroke-width="1.3" stroke-linejoin="miter"/>
<text x="74.30" y="489.20" font-size="7.05" fill="#1c1c1c" stroke="#1c1c1c" stroke-width="0.18">Low (<tspan font-style="italic">n</tspan>=9)</text>
<text x="74.30" y="500.10" font-size="7.05" fill="#1c1c1c" stroke="#1c1c1c" stroke-width="0.18">High (<tspan font-style="italic">n</tspan>=69)</text>
<text x="230.00" y="500.70" font-size="7.3" fill="#1c1c1c" stroke="#1c1c1c" stroke-width="0.18" textLength="19.00" lengthAdjust="spacingAndGlyphs">p=.44</text>
<path d="M52.30,399.40H62.60V399.40H62.60V410.50H71.10V410.50H71.10V421.40H79.10V421.40H79.10V432.70H117.30V432.70H117.30V443.80H118.60V443.80H118.60V454.80H142.10V454.80H142.10V465.60H157.10V465.60" fill="none" stroke="#1d5a97" stroke-width="1.25" stroke-linejoin="miter"/>
<path d="M52.30,399.40H56.40V399.40H56.40V402.40H59.10V402.40H59.90V404.10H60.60V404.60H61.30V405.10H61.85V405.50H62.40V405.90H62.60V409.40H63.20V409.75H63.80V410.10H64.63V410.37H65.47V410.63H66.30V410.90H67.00V412.30H67.70V415.10H68.25V416.55H68.80V418.00H69.70V418.70H70.60V419.40H71.20V419.90H71.80V420.40H72.40V420.90H73.10V424.80H73.80V428.00H74.35V429.45H74.90V430.90H75.60V432.30H76.30V433.70H77.15V434.65H78.00V435.60H78.85V435.90H79.70V436.20H80.55V437.05H81.40V437.90H82.25V439.20H83.10V440.50H83.95V441.10H84.80V441.70H85.65V443.00H86.50V444.30H87.10V445.35H87.70V446.40H88.40V446.83H89.10V447.27H89.80V447.70H90.45V447.90H91.10V448.10H91.55V449.55H92.00V451.00H92.60V451.65H93.20V452.30H94.10V455.30H94.82V455.40H95.55V455.50H96.28V455.60H97.00V455.70H97.65V456.55H98.30V457.40H99.15V458.45H100.00V459.50H100.70V459.77H101.40V460.03H102.10V460.30H102.75V461.60H103.40V462.90H104.25V463.75H105.10V464.60H105.95V465.20H106.80V465.80H107.56V465.90H108.32V466.00H109.08V466.10H109.84V466.20H110.60V466.30H111.20V466.90H111.80V467.50H116.10V467.50H116.95V468.55H117.80V469.60H118.40V470.15H119.00V470.70H145.20V470.70H145.20V472.20H173.50V472.20H173.50V474.80H177.50V474.80H177.50V477.50H236.50V477.50" fill="none" stroke="#c8193f" stroke-width="1.25" stroke-linejoin="miter"/>
<path d="M153.30,464.40v2.40M156.20,464.40v2.40" fill="none" stroke="#1d5a97" stroke-width="0.9"/>
<path d="M148.10,471.00v2.40M150.40,471.00v2.40M156.70,471.00v2.40M164.20,471.00v2.40M168.80,471.00v2.40M186.20,476.30v2.40M196.50,476.30v2.40M205.80,476.30v2.40M213.80,476.30v2.40M224.20,476.30v2.40M234.60,476.30v2.40" fill="none" stroke="#c8193f" stroke-width="0.9"/>
<text x="268.10" y="388.20" font-size="11.2" fill="#000" stroke="#000" stroke-width="0.18" font-weight="bold">F</text>
<text x="408.32" y="388.00" font-size="9.3" fill="#000" stroke="#000" stroke-width="0.18" text-anchor="middle" font-weight="bold" textLength="74.40" lengthAdjust="spacingAndGlyphs">GO group (n=86)</text>
<path d="M304.00,394.20V505.00H512.90" fill="none" stroke="#2e2e2e" stroke-width="1.45" stroke-linejoin="round"/>
<line x1="301.00" y1="399.50" x2="304.00" y2="399.50" stroke="#111" stroke-width="1.0"/>
<text x="298.10" y="401.95" font-size="7.9" fill="#1c1c1c" stroke="#1c1c1c" stroke-width="0.18" text-anchor="end" textLength="15.00" lengthAdjust="spacingAndGlyphs">1.00</text>
<line x1="301.00" y1="419.50" x2="304.00" y2="419.50" stroke="#111" stroke-width="1.0"/>
<text x="298.10" y="421.95" font-size="7.9" fill="#1c1c1c" stroke="#1c1c1c" stroke-width="0.18" text-anchor="end" textLength="15.00" lengthAdjust="spacingAndGlyphs">0.80</text>
<line x1="301.00" y1="439.50" x2="304.00" y2="439.50" stroke="#111" stroke-width="1.0"/>
<text x="298.10" y="441.95" font-size="7.9" fill="#1c1c1c" stroke="#1c1c1c" stroke-width="0.18" text-anchor="end" textLength="15.00" lengthAdjust="spacingAndGlyphs">0.60</text>
<line x1="301.00" y1="459.50" x2="304.00" y2="459.50" stroke="#111" stroke-width="1.0"/>
<text x="298.10" y="461.95" font-size="7.9" fill="#1c1c1c" stroke="#1c1c1c" stroke-width="0.18" text-anchor="end" textLength="15.00" lengthAdjust="spacingAndGlyphs">0.40</text>
<line x1="301.00" y1="479.50" x2="304.00" y2="479.50" stroke="#111" stroke-width="1.0"/>
<text x="298.10" y="481.95" font-size="7.9" fill="#1c1c1c" stroke="#1c1c1c" stroke-width="0.18" text-anchor="end" textLength="15.00" lengthAdjust="spacingAndGlyphs">0.20</text>
<line x1="301.00" y1="499.50" x2="304.00" y2="499.50" stroke="#111" stroke-width="1.0"/>
<text x="298.10" y="501.95" font-size="7.9" fill="#1c1c1c" stroke="#1c1c1c" stroke-width="0.18" text-anchor="end" textLength="15.00" lengthAdjust="spacingAndGlyphs">0.00</text>
<line x1="314.15" y1="505.00" x2="314.15" y2="508.00" stroke="#111" stroke-width="1.0"/>
<text x="314.15" y="516.80" font-size="7.8" fill="#1c1c1c" stroke="#1c1c1c" stroke-width="0.18" text-anchor="middle">0</text>
<line x1="345.54" y1="505.00" x2="345.54" y2="508.00" stroke="#111" stroke-width="1.0"/>
<text x="345.54" y="516.80" font-size="7.8" fill="#1c1c1c" stroke="#1c1c1c" stroke-width="0.18" text-anchor="middle">12</text>
<line x1="376.93" y1="505.00" x2="376.93" y2="508.00" stroke="#111" stroke-width="1.0"/>
<text x="376.93" y="516.80" font-size="7.8" fill="#1c1c1c" stroke="#1c1c1c" stroke-width="0.18" text-anchor="middle">24</text>
<line x1="408.32" y1="505.00" x2="408.32" y2="508.00" stroke="#111" stroke-width="1.0"/>
<text x="408.32" y="516.80" font-size="7.8" fill="#1c1c1c" stroke="#1c1c1c" stroke-width="0.18" text-anchor="middle">36</text>
<line x1="439.71" y1="505.00" x2="439.71" y2="508.00" stroke="#111" stroke-width="1.0"/>
<text x="439.71" y="516.80" font-size="7.8" fill="#1c1c1c" stroke="#1c1c1c" stroke-width="0.18" text-anchor="middle">48</text>
<line x1="471.10" y1="505.00" x2="471.10" y2="508.00" stroke="#111" stroke-width="1.0"/>
<text x="471.10" y="516.80" font-size="7.8" fill="#1c1c1c" stroke="#1c1c1c" stroke-width="0.18" text-anchor="middle">60</text>
<line x1="502.49" y1="505.00" x2="502.49" y2="508.00" stroke="#111" stroke-width="1.0"/>
<text x="502.49" y="516.80" font-size="7.8" fill="#1c1c1c" stroke="#1c1c1c" stroke-width="0.18" text-anchor="middle">72</text>
<text transform="translate(274.60,448.90) rotate(-90)" x="0" y="0" font-size="8.8" fill="#1c1c1c" text-anchor="middle" textLength="54" lengthAdjust="spacingAndGlyphs" stroke="#1c1c1c" stroke-width="0.4">Survival probability</text>
<text x="388.90" y="529.50" font-size="8.7" fill="#1c1c1c" textLength="39.20" lengthAdjust="spacingAndGlyphs" stroke="#1c1c1c" stroke-width="0.3">LFS (months)</text>
<text x="307.50" y="479.20" font-size="7.05" fill="#000" stroke="#000" stroke-width="0.18" font-weight="bold" textLength="82.10" lengthAdjust="spacingAndGlyphs">ABCA3 gene expression</text>
<path d="M322.30,488.20H327.50V485.90H333.30V488.80" fill="none" stroke="#1d5a97" stroke-width="1.3" stroke-linejoin="miter"/>
<path d="M322.30,499.30H327.50V496.90H333.30V499.90" fill="none" stroke="#c8193f" stroke-width="1.3" stroke-linejoin="miter"/>
<text x="336.30" y="489.20" font-size="7.05" fill="#1c1c1c" stroke="#1c1c1c" stroke-width="0.18">Low (<tspan font-style="italic">n</tspan>=25)</text>
<text x="336.30" y="500.10" font-size="7.05" fill="#1c1c1c" stroke="#1c1c1c" stroke-width="0.18">High (<tspan font-style="italic">n</tspan>=61)</text>
<text x="413.20" y="500.70" font-size="7.3" fill="#1c1c1c" stroke="#1c1c1c" stroke-width="0.18" textLength="99.90" lengthAdjust="spacingAndGlyphs">HR=3.0, 95CI[1.4−6.4], p=.005</text>
<path d="M314.80,399.70H315.55V400.00H316.30V400.30H316.30V403.10H323.90V403.10H324.35V404.00H324.80V404.90H325.10V407.60H331.20V407.60H331.50V410.10H332.10V412.80H333.00V415.20H333.60V417.60H333.90V419.50H340.60V419.50H340.60V423.30H358.30V423.30H358.30V427.50H381.40V427.50H381.40V431.30H489.50V431.30" fill="none" stroke="#1d5a97" stroke-width="1.25" stroke-linejoin="miter"/>
<path d="M314.80,399.70H318.50V399.70H319.10V401.20H323.60V401.20H324.20V402.00H324.80V402.80H325.40V404.90H326.10V407.60H326.40V409.40H327.15V410.20H327.90V411.00H328.57V411.07H329.25V411.15H329.93V411.23H330.60V411.30H331.20V411.60H331.80V411.90H332.40V413.70H332.85V414.60H333.30V415.50H333.95V415.95H334.60V416.40H335.50V417.60H335.80V419.80H336.40V421.90H336.85V422.80H337.30V423.70H337.30V426.30H345.10V426.30H345.85V427.05H346.60V427.80H347.20V428.80H347.80V429.80H348.20V433.20H348.50V435.90H349.30V436.50H350.10V437.10H350.65V437.85H351.20V438.60H351.60V440.50H352.23V440.77H352.87V441.03H353.50V441.30H354.30V441.90H355.10V442.50H355.73V442.60H356.37V442.70H357.00V442.80H357.80V447.10H358.55V448.05H359.30V449.00H360.05V450.55H360.80V452.10H361.60V452.65H362.40V453.20H363.03V453.60H363.67V454.00H364.30V454.40H364.93V454.53H365.57V454.67H366.20V454.80H366.87V455.17H367.53V455.53H368.20V455.90H368.95V456.70H369.70V457.50H370.25V458.45H370.80V459.40H382.30V459.40H382.95V459.90H383.60V460.40H384.45V460.72H385.30V461.05H386.15V461.38H387.00V461.70H387.85V462.20H388.70V462.70H389.55V463.20H390.40V463.70H401.10V463.70H401.80V465.40H402.50V467.10H407.90V467.10H408.50V469.40H427.00V469.40H427.00V472.30H443.90V472.30H443.90V476.20H470.70V476.20" fill="none" stroke="#c8193f" stroke-width="1.25" stroke-linejoin="miter"/>
<path d="M403.20,430.10v2.40M405.20,430.10v2.40M407.90,430.10v2.40M423.50,430.10v2.40M431.90,430.10v2.40M437.30,430.10v2.40M445.00,430.10v2.40M457.30,430.10v2.40M462.70,430.10v2.40M467.30,430.10v2.40M469.60,430.10v2.40M480.40,430.10v2.40" fill="none" stroke="#1d5a97" stroke-width="0.9"/>
<path d="M415.00,468.20v2.40M418.80,468.20v2.40M421.90,468.20v2.40M425.80,468.20v2.40M433.50,471.10v2.40M438.10,471.10v2.40M455.00,475.00v2.40M466.50,475.00v2.40" fill="none" stroke="#c8193f" stroke-width="0.9"/>
<text x="408.80" y="426.20" font-size="7.2" fill="#1c1c1c" stroke="#1c1c1c" stroke-width="0.18" textLength="66.20" lengthAdjust="spacingAndGlyphs">4y LFS: 68 +/− 9.3%</text>
<text x="431.60" y="467.20" font-size="7.2" fill="#1c1c1c" stroke="#1c1c1c" stroke-width="0.18" textLength="71.10" lengthAdjust="spacingAndGlyphs">4y LFS: 27.5 +/− 5.9%</text>
<text x="269.00" y="543.00" font-size="8.8" fill="#1c1c1c" textLength="28.90" lengthAdjust="spacingAndGlyphs" stroke="#1c1c1c" stroke-width="0.3">No at risk:</text>
<text x="314.15" y="543.00" font-size="7.5" fill="#1d5a97" stroke="#1d5a97" stroke-width="0.18" text-anchor="middle">25</text>
<text x="314.15" y="553.20" font-size="7.5" fill="#c8193f" stroke="#c8193f" stroke-width="0.18" text-anchor="middle">61</text>
<text x="345.54" y="543.00" font-size="7.5" fill="#1d5a97" stroke="#1d5a97" stroke-width="0.18" text-anchor="middle">19</text>
<text x="345.54" y="553.20" font-size="7.5" fill="#c8193f" stroke="#c8193f" stroke-width="0.18" text-anchor="middle">43</text>
<text x="376.93" y="543.00" font-size="7.5" fill="#1d5a97" stroke="#1d5a97" stroke-width="0.18" text-anchor="middle">18</text>
<text x="376.93" y="553.20" font-size="7.5" fill="#c8193f" stroke="#c8193f" stroke-width="0.18" text-anchor="middle">24</text>
<text x="408.32" y="543.00" font-size="7.5" fill="#1d5a97" stroke="#1d5a97" stroke-width="0.18" text-anchor="middle">13</text>
<text x="408.32" y="553.20" font-size="7.5" fill="#c8193f" stroke="#c8193f" stroke-width="0.18" text-anchor="middle">18</text>
<text x="439.71" y="543.00" font-size="7.5" fill="#1d5a97" stroke="#1d5a97" stroke-width="0.18" text-anchor="middle">8</text>
<text x="439.71" y="553.20" font-size="7.5" fill="#c8193f" stroke="#c8193f" stroke-width="0.18" text-anchor="middle">11</text>
<text x="471.10" y="543.00" font-size="7.5" fill="#1d5a97" stroke="#1d5a97" stroke-width="0.18" text-anchor="middle">2</text>
<text x="471.10" y="553.20" font-size="7.5" fill="#c8193f" stroke="#c8193f" stroke-width="0.18" text-anchor="middle">0</text>
<rect x="0.5" y="0.5" width="519" height="559" fill="none" stroke="#000" stroke-width="1"/>
</svg>
</div></body></html>
